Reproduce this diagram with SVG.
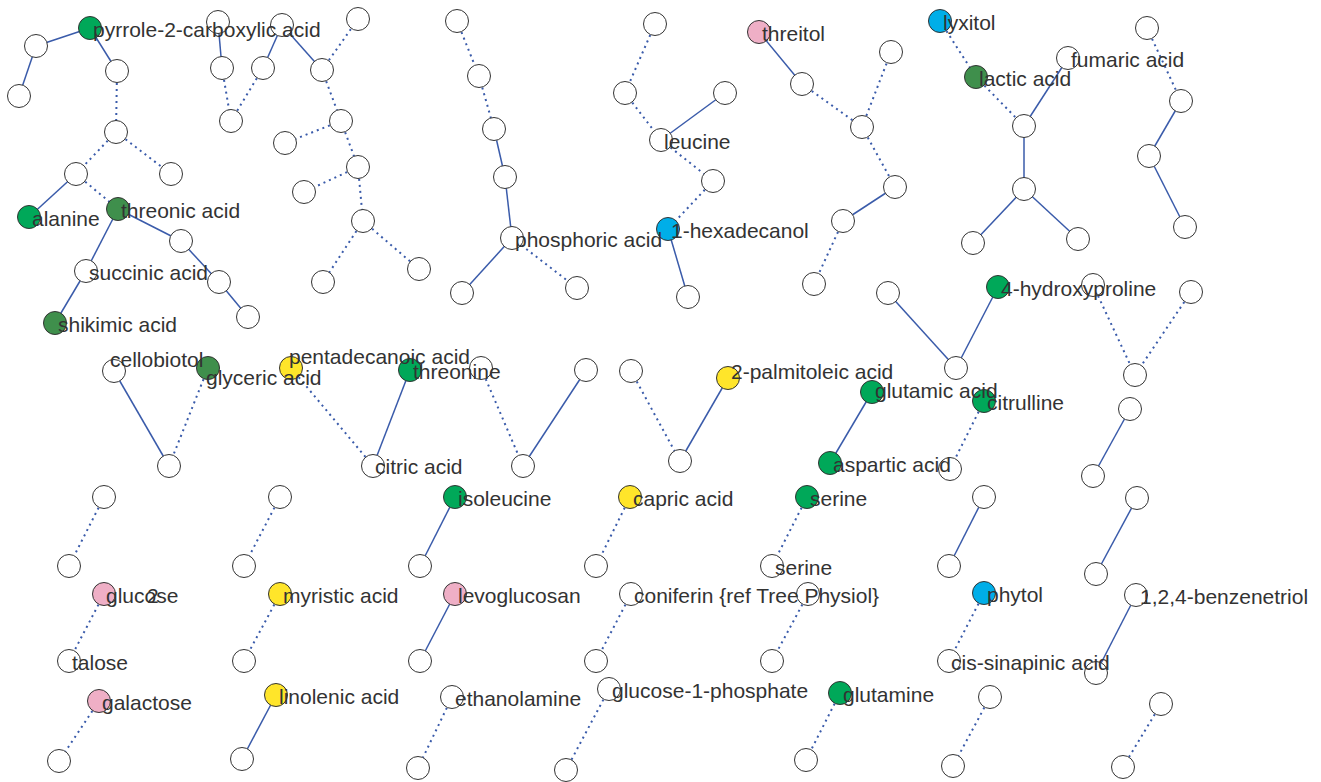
<svg xmlns="http://www.w3.org/2000/svg" width="1321" height="782" viewBox="0 0 1321 782">
<style>
.n circle{fill:#fff;stroke:#333;stroke-width:1}
.n circle.g{fill:#00A859}
.n circle.dg{fill:#3F8F4C}
.n circle.pk{fill:#EFAFC6}
.n circle.bl{fill:#00AEE8}
.n circle.yl{fill:#FFE52A}
text{font-family:"Liberation Sans",Arial,sans-serif;font-size:21px;fill:#333}
#edges line{stroke:#3A5BAA;stroke-width:1.5;fill:none}
#edges line.d{stroke-dasharray:2 4;stroke-width:2}
</style>
<rect width="1321" height="782" fill="#fff"/>
<g id="edges">
<line x1="90" y1="28" x2="36" y2="46"/>
<line x1="36" y1="46" x2="19" y2="96"/>
<line x1="90" y1="28" x2="117" y2="71"/>
<line class="d" x1="117" y1="71" x2="116" y2="132"/>
<line class="d" x1="116" y1="132" x2="76" y2="174"/>
<line class="d" x1="116" y1="132" x2="171" y2="174"/>
<line x1="76" y1="174" x2="29" y2="217"/>
<line class="d" x1="76" y1="174" x2="118" y2="209"/>
<line x1="118" y1="209" x2="181" y2="241"/>
<line x1="118" y1="209" x2="86" y2="271"/>
<line x1="181" y1="241" x2="219" y2="282"/>
<line x1="219" y1="282" x2="248" y2="317"/>
<line x1="86" y1="271" x2="55" y2="323"/>
<line x1="218" y1="22" x2="222" y2="68"/>
<line class="d" x1="222" y1="68" x2="231" y2="121"/>
<line class="d" x1="231" y1="121" x2="263" y2="68"/>
<line x1="263" y1="68" x2="282" y2="25"/>
<line x1="282" y1="25" x2="322" y2="70"/>
<line class="d" x1="322" y1="70" x2="358" y2="19"/>
<line class="d" x1="322" y1="70" x2="341" y2="121"/>
<line class="d" x1="341" y1="121" x2="285" y2="143"/>
<line class="d" x1="341" y1="121" x2="358" y2="167"/>
<line class="d" x1="358" y1="167" x2="304" y2="192"/>
<line class="d" x1="358" y1="167" x2="363" y2="221"/>
<line class="d" x1="363" y1="221" x2="323" y2="282"/>
<line class="d" x1="363" y1="221" x2="419" y2="269"/>
<line class="d" x1="457" y1="21" x2="479" y2="76"/>
<line class="d" x1="479" y1="76" x2="494" y2="129"/>
<line x1="494" y1="129" x2="505" y2="177"/>
<line x1="505" y1="177" x2="512" y2="238"/>
<line x1="512" y1="238" x2="462" y2="293"/>
<line class="d" x1="512" y1="238" x2="577" y2="288"/>
<line class="d" x1="655" y1="24" x2="625" y2="93"/>
<line class="d" x1="625" y1="93" x2="661" y2="140"/>
<line x1="661" y1="140" x2="725" y2="93"/>
<line class="d" x1="661" y1="140" x2="713" y2="181"/>
<line class="d" x1="713" y1="181" x2="668" y2="229"/>
<line x1="668" y1="229" x2="688" y2="297"/>
<line x1="759" y1="32" x2="802" y2="84"/>
<line class="d" x1="802" y1="84" x2="862" y2="127"/>
<line class="d" x1="862" y1="127" x2="891" y2="52"/>
<line class="d" x1="862" y1="127" x2="895" y2="187"/>
<line x1="895" y1="187" x2="843" y2="221"/>
<line class="d" x1="843" y1="221" x2="814" y2="284"/>
<line class="d" x1="940" y1="21" x2="976" y2="77"/>
<line class="d" x1="976" y1="77" x2="1024" y2="126"/>
<line x1="1024" y1="126" x2="1068" y2="58"/>
<line x1="1024" y1="126" x2="1024" y2="189"/>
<line x1="1024" y1="189" x2="973" y2="243"/>
<line x1="1024" y1="189" x2="1078" y2="239"/>
<line class="d" x1="1147" y1="28" x2="1181" y2="101"/>
<line x1="1181" y1="101" x2="1149" y2="156"/>
<line x1="1149" y1="156" x2="1185" y2="227"/>
<line x1="888" y1="293" x2="956" y2="368"/>
<line x1="998" y1="287" x2="956" y2="368"/>
<line class="d" x1="1093" y1="285" x2="1135" y2="375"/>
<line class="d" x1="1191" y1="292" x2="1135" y2="375"/>
<line x1="114" y1="371" x2="169" y2="466"/>
<line class="d" x1="208" y1="368" x2="169" y2="466"/>
<line class="d" x1="291" y1="368" x2="373" y2="466"/>
<line x1="410" y1="370" x2="373" y2="466"/>
<line class="d" x1="481" y1="368" x2="523" y2="466"/>
<line x1="586" y1="370" x2="523" y2="466"/>
<line class="d" x1="631" y1="371" x2="680" y2="461"/>
<line x1="728" y1="378" x2="680" y2="461"/>
<line x1="872" y1="392" x2="830" y2="463"/>
<line class="d" x1="984" y1="401" x2="950" y2="469"/>
<line x1="1130" y1="409" x2="1093" y2="476"/>
<line class="d" x1="104" y1="497" x2="69" y2="566"/>
<line class="d" x1="280" y1="497" x2="244" y2="566"/>
<line x1="455" y1="497" x2="420" y2="566"/>
<line class="d" x1="630" y1="497" x2="596" y2="566"/>
<line class="d" x1="807" y1="497" x2="772" y2="566"/>
<line x1="984" y1="497" x2="949" y2="566"/>
<line x1="1137" y1="498" x2="1096" y2="574"/>
<line class="d" x1="104" y1="594" x2="69" y2="661"/>
<line class="d" x1="280" y1="594" x2="244" y2="661"/>
<line x1="455" y1="594" x2="420" y2="661"/>
<line class="d" x1="631" y1="594" x2="596" y2="661"/>
<line class="d" x1="808" y1="594" x2="772" y2="661"/>
<line class="d" x1="984" y1="593" x2="949" y2="661"/>
<line x1="1136" y1="595" x2="1096" y2="673"/>
<line class="d" x1="99" y1="701" x2="59" y2="761"/>
<line x1="276" y1="695" x2="242" y2="759"/>
<line class="d" x1="452" y1="697" x2="418" y2="768"/>
<line class="d" x1="609" y1="689" x2="566" y2="770"/>
<line class="d" x1="840" y1="693" x2="806" y2="760"/>
<line class="d" x1="990" y1="697" x2="953" y2="766"/>
<line class="d" x1="1161" y1="704" x2="1123" y2="767"/>
</g>
<g id="nodes">
<g id="a2" class="n"><circle cx="36" cy="46" r="11.5"/></g>
<g id="a3" class="n"><circle cx="19" cy="96" r="11.5"/></g>
<g id="a4" class="n"><circle cx="117" cy="71" r="11.5"/></g>
<g id="a5" class="n"><circle cx="116" cy="132" r="11.5"/></g>
<g id="a6" class="n"><circle cx="76" cy="174" r="11.5"/></g>
<g id="a7" class="n"><circle cx="171" cy="174" r="11.5"/></g>
<g id="a10" class="n"><circle cx="181" cy="241" r="11.5"/></g>
<g id="a12" class="n"><circle cx="219" cy="282" r="11.5"/></g>
<g id="a14" class="n"><circle cx="248" cy="317" r="11.5"/></g>
<g id="b1" class="n"><circle cx="218" cy="22" r="11.5"/></g>
<g id="b2" class="n"><circle cx="222" cy="68" r="11.5"/></g>
<g id="b3" class="n"><circle cx="231" cy="121" r="11.5"/></g>
<g id="b4" class="n"><circle cx="282" cy="25" r="11.5"/></g>
<g id="b5" class="n"><circle cx="263" cy="68" r="11.5"/></g>
<g id="b6" class="n"><circle cx="322" cy="70" r="11.5"/></g>
<g id="b7" class="n"><circle cx="358" cy="19" r="11.5"/></g>
<g id="b8" class="n"><circle cx="341" cy="121" r="11.5"/></g>
<g id="b9" class="n"><circle cx="285" cy="143" r="11.5"/></g>
<g id="b10" class="n"><circle cx="358" cy="167" r="11.5"/></g>
<g id="b11" class="n"><circle cx="304" cy="192" r="11.5"/></g>
<g id="b12" class="n"><circle cx="363" cy="221" r="11.5"/></g>
<g id="b13" class="n"><circle cx="323" cy="282" r="11.5"/></g>
<g id="b14" class="n"><circle cx="419" cy="269" r="11.5"/></g>
<g id="c1" class="n"><circle cx="457" cy="21" r="11.5"/></g>
<g id="c2" class="n"><circle cx="479" cy="76" r="11.5"/></g>
<g id="c3" class="n"><circle cx="494" cy="129" r="11.5"/></g>
<g id="c4" class="n"><circle cx="505" cy="177" r="11.5"/></g>
<g id="c6" class="n"><circle cx="462" cy="293" r="11.5"/></g>
<g id="c7" class="n"><circle cx="577" cy="288" r="11.5"/></g>
<g id="d1" class="n"><circle cx="655" cy="24" r="11.5"/></g>
<g id="d2" class="n"><circle cx="625" cy="93" r="11.5"/></g>
<g id="d3" class="n"><circle cx="725" cy="93" r="11.5"/></g>
<g id="d5" class="n"><circle cx="713" cy="181" r="11.5"/></g>
<g id="d7" class="n"><circle cx="688" cy="297" r="11.5"/></g>
<g id="e2" class="n"><circle cx="802" cy="84" r="11.5"/></g>
<g id="e3" class="n"><circle cx="862" cy="127" r="11.5"/></g>
<g id="e4" class="n"><circle cx="891" cy="52" r="11.5"/></g>
<g id="e5" class="n"><circle cx="895" cy="187" r="11.5"/></g>
<g id="e6" class="n"><circle cx="843" cy="221" r="11.5"/></g>
<g id="e7" class="n"><circle cx="814" cy="284" r="11.5"/></g>
<g id="f3" class="n"><circle cx="1024" cy="126" r="11.5"/></g>
<g id="f5" class="n"><circle cx="1024" cy="189" r="11.5"/></g>
<g id="f6" class="n"><circle cx="973" cy="243" r="11.5"/></g>
<g id="f7" class="n"><circle cx="1078" cy="239" r="11.5"/></g>
<g id="g1" class="n"><circle cx="1147" cy="28" r="11.5"/></g>
<g id="g2" class="n"><circle cx="1181" cy="101" r="11.5"/></g>
<g id="g3" class="n"><circle cx="1149" cy="156" r="11.5"/></g>
<g id="g4" class="n"><circle cx="1185" cy="227" r="11.5"/></g>
<g id="h1" class="n"><circle cx="888" cy="293" r="11.5"/></g>
<g id="h3" class="n"><circle cx="956" cy="368" r="11.5"/></g>
<g id="i1" class="n"><circle cx="1093" cy="285" r="11.5"/></g>
<g id="i2" class="n"><circle cx="1191" cy="292" r="11.5"/></g>
<g id="i3" class="n"><circle cx="1135" cy="375" r="11.5"/></g>
<g id="p2" class="n"><circle cx="169" cy="466" r="11.5"/></g>
<g id="r1" class="n"><circle cx="481" cy="368" r="11.5"/></g>
<g id="r2" class="n"><circle cx="523" cy="466" r="11.5"/></g>
<g id="r3" class="n"><circle cx="586" cy="370" r="11.5"/></g>
<g id="s1" class="n"><circle cx="631" cy="371" r="11.5"/></g>
<g id="s2" class="n"><circle cx="680" cy="461" r="11.5"/></g>
<g id="u2" class="n"><circle cx="950" cy="469" r="11.5"/></g>
<g id="v1" class="n"><circle cx="1130" cy="409" r="11.5"/></g>
<g id="v2" class="n"><circle cx="1093" cy="476" r="11.5"/></g>
<g id="w1" class="n"><circle cx="104" cy="497" r="11.5"/></g>
<g id="w2" class="n"><circle cx="69" cy="566" r="11.5"/></g>
<g id="x1" class="n"><circle cx="280" cy="497" r="11.5"/></g>
<g id="x2" class="n"><circle cx="244" cy="566" r="11.5"/></g>
<g id="y2" class="n"><circle cx="420" cy="566" r="11.5"/></g>
<g id="z2" class="n"><circle cx="596" cy="566" r="11.5"/></g>
<g id="ab1" class="n"><circle cx="984" cy="497" r="11.5"/></g>
<g id="ab2" class="n"><circle cx="949" cy="566" r="11.5"/></g>
<g id="ac1" class="n"><circle cx="1137" cy="498" r="11.5"/></g>
<g id="ac2" class="n"><circle cx="1096" cy="574" r="11.5"/></g>
<g id="ae2" class="n"><circle cx="244" cy="661" r="11.5"/></g>
<g id="af2" class="n"><circle cx="420" cy="661" r="11.5"/></g>
<g id="ag2" class="n"><circle cx="596" cy="661" r="11.5"/></g>
<g id="ah1" class="n"><circle cx="808" cy="594" r="11.5"/></g>
<g id="ah2" class="n"><circle cx="772" cy="661" r="11.5"/></g>
<g id="aj2" class="n"><circle cx="1096" cy="673" r="11.5"/></g>
<g id="ak2" class="n"><circle cx="59" cy="761" r="11.5"/></g>
<g id="al2" class="n"><circle cx="242" cy="759" r="11.5"/></g>
<g id="am2" class="n"><circle cx="418" cy="768" r="11.5"/></g>
<g id="an2" class="n"><circle cx="566" cy="770" r="11.5"/></g>
<g id="ao2" class="n"><circle cx="806" cy="760" r="11.5"/></g>
<g id="ap1" class="n"><circle cx="990" cy="697" r="11.5"/></g>
<g id="ap2" class="n"><circle cx="953" cy="766" r="11.5"/></g>
<g id="aq1" class="n"><circle cx="1161" cy="704" r="11.5"/></g>
<g id="aq2" class="n"><circle cx="1123" cy="767" r="11.5"/></g>

<g id="a1" class="n"><circle class="g" cx="90" cy="28" r="11.5"/><text x="93" y="37">pyrrole-2-carboxylic acid</text></g>
<g id="a8" class="n"><circle class="g" cx="29" cy="217" r="11.5"/><text x="32" y="226">alanine</text></g>
<g id="a9" class="n"><circle class="dg" cx="118" cy="209" r="11.5"/><text x="121" y="218">threonic acid</text></g>
<g id="a11" class="n"><circle cx="86" cy="271" r="11.5"/><text x="89" y="280">succinic acid</text></g>
<g id="a13" class="n"><circle class="dg" cx="55" cy="323" r="11.5"/><text x="58" y="332">shikimic acid</text></g>
<g id="d6" class="n"><circle class="bl" cx="668" cy="229" r="11.5"/><text x="671" y="238">1-hexadecanol</text></g>
<g id="c5" class="n"><circle cx="512" cy="238" r="11.5"/><text x="515" y="247">phosphoric acid</text></g>
<g id="d4" class="n"><circle cx="661" cy="140" r="11.5"/><text x="664" y="149">leucine</text></g>
<g id="e1" class="n"><circle class="pk" cx="759" cy="32" r="11.5"/><text x="762" y="41">threitol</text></g>
<g id="f1" class="n"><circle class="bl" cx="940" cy="21" r="11.5"/><text x="943" y="30">lyxitol</text></g>
<g id="f4" class="n"><circle cx="1068" cy="58" r="11.5"/><text x="1071" y="67">fumaric acid</text></g>
<g id="f2" class="n"><circle class="dg" cx="976" cy="77" r="11.5"/><text x="979" y="86">lactic acid</text></g>
<g id="h2" class="n"><circle class="g" cx="998" cy="287" r="11.5"/><text x="1001" y="296">4-hydroxyproline</text></g>
<g id="q3" class="n"><circle class="g" cx="410" cy="370" r="11.5"/><text x="413" y="379">threonine</text></g>
<g id="q1" class="n"><circle class="yl" cx="291" cy="368" r="11.5"/><text x="289" y="364">pentadecanoic acid</text></g>
<g id="p3" class="n"><circle class="dg" cx="208" cy="368" r="11.5"/><text x="206" y="385">glyceric acid</text></g>
<g id="p1" class="n"><circle cx="114" cy="371" r="11.5"/><text x="110" y="367">cellobiotol</text></g>
<g id="q2" class="n"><circle cx="373" cy="466" r="11.5"/><text x="375" y="474">citric acid</text></g>
<g id="u1" class="n"><circle class="g" cx="984" cy="401" r="11.5"/><text x="987" y="410">citrulline</text></g>
<g id="t1" class="n"><circle class="g" cx="872" cy="392" r="11.5"/><text x="875" y="398">glutamic acid</text></g>
<g id="s3" class="n"><circle class="yl" cx="728" cy="378" r="11.5"/><text x="731" y="379">2-palmitoleic acid</text></g>
<g id="t2" class="n"><circle class="g" cx="830" cy="463" r="11.5"/><text x="833" y="472">aspartic acid</text></g>
<g id="y1" class="n"><circle class="g" cx="455" cy="497" r="11.5"/><text x="458" y="506">isoleucine</text></g>
<g id="z1" class="n"><circle class="yl" cx="630" cy="497" r="11.5"/><text x="633" y="506">capric acid</text></g>
<g id="aa1" class="n"><circle class="g" cx="807" cy="497" r="11.5"/><text x="810" y="506">serine</text></g>
<g id="aa2" class="n"><circle cx="772" cy="566" r="11.5"/><text x="775" y="575">serine</text></g>
<g id="ad1" class="n"><circle class="pk" cx="104" cy="594" r="11.5"/><text x="106" y="603">glucose</text><text x="147" y="603">2</text></g>
<g id="ad2" class="n"><circle cx="69" cy="661" r="11.5"/><text x="72" y="670">talose</text></g>
<g id="ae1" class="n"><circle class="yl" cx="280" cy="594" r="11.5"/><text x="283" y="603">myristic acid</text></g>
<g id="af1" class="n"><circle class="pk" cx="455" cy="594" r="11.5"/><text x="458" y="603">levoglucosan</text></g>
<g id="ag1" class="n"><circle cx="631" cy="594" r="11.5"/><text x="634" y="603">coniferin {ref Tree Physiol}</text></g>
<g id="ai1" class="n"><circle class="bl" cx="984" cy="593" r="11.5"/><text x="987" y="602">phytol</text></g>
<g id="ai2" class="n"><circle cx="949" cy="661" r="11.5"/><text x="951" y="670">cis-sinapinic acid</text></g>
<g id="aj1" class="n"><circle cx="1136" cy="595" r="11.5"/><text x="1140" y="604">1,2,4-benzenetriol</text></g>
<g id="ak1" class="n"><circle class="pk" cx="99" cy="701" r="11.5"/><text x="102" y="710">galactose</text></g>
<g id="al1" class="n"><circle class="yl" cx="276" cy="695" r="11.5"/><text x="279" y="704">linolenic acid</text></g>
<g id="am1" class="n"><circle cx="452" cy="697" r="11.5"/><text x="455" y="706">ethanolamine</text></g>
<g id="an1" class="n"><circle cx="609" cy="689" r="11.5"/><text x="612" y="698">glucose-1-phosphate</text></g>
<g id="ao1" class="n"><circle class="g" cx="840" cy="693" r="11.5"/><text x="843" y="702">glutamine</text></g>
</g>
</svg>
